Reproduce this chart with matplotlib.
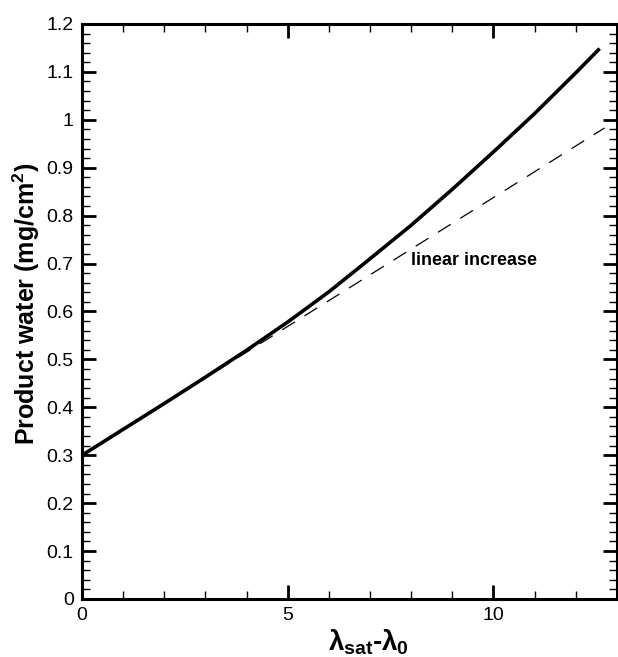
import matplotlib
matplotlib.use('Agg')
import matplotlib.pyplot as plt
from matplotlib.ticker import MultipleLocator

plt.rcParams['font.family'] = 'Liberation Sans'
plt.rcParams['mathtext.fontset'] = 'custom'
plt.rcParams['mathtext.rm'] = 'Liberation Sans:bold'
plt.rcParams['mathtext.it'] = 'Liberation Sans:bold'
plt.rcParams['mathtext.bf'] = 'Liberation Sans:bold'

# solid curve: product water vs lambda_sat - lambda_0
lam = [0, 1, 2, 3, 4, 5, 6, 6.9, 8, 9, 10, 11, 12, 12.55]
water = [0.300, 0.354, 0.408, 0.463, 0.519, 0.578, 0.641, 0.703,
         0.780, 0.855, 0.933, 1.013, 1.098, 1.146]

# dashed linear increase
lin_x = [0, 12.7]
lin_y = [0.300, 0.983]

fig = plt.figure(figsize=(6.18, 6.57), dpi=100)
ax = fig.add_axes([0.1327, 0.0883, 0.8655, 0.8752])

ax.plot(lam, water, color='black', linewidth=2.6)
ax.plot(lin_x, lin_y, color='black', linewidth=0.9, dashes=(12, 9))
ax.text(8.0, 0.707, 'linear increase', fontsize=13, fontweight='bold', va='center')

ax.set_xlim(0, 13)
ax.set_ylim(0, 1.2)
ax.xaxis.set_major_locator(MultipleLocator(5))
ax.xaxis.set_minor_locator(MultipleLocator(1))
ax.yaxis.set_minor_locator(MultipleLocator(0.02))
ax.set_yticks([i / 10 for i in range(13)])
ax.set_yticklabels(['0', '0.1', '0.2', '0.3', '0.4', '0.5', '0.6', '0.7', '0.8', '0.9', '1', '1.1', '1.2'])

ax.tick_params(which='both', direction='in', top=True, right=True, labelsize=14, pad=6)
ax.tick_params(which='major', length=10, width=2)
ax.tick_params(which='minor', length=6, width=1)
for s in ax.spines.values():
    s.set_linewidth(2.2)

ax.set_xlabel(r'$\lambda_{sat}$-$\lambda_0$', fontsize=20, fontweight='bold')
ax.set_ylabel(r'Product water (mg/cm$^2$)', fontsize=18, fontweight='bold')
ax.xaxis.set_label_coords(0.535, -0.05)
ax.yaxis.set_label_coords(-0.074, 0.514)

fig.savefig('out.png', dpi=100)
